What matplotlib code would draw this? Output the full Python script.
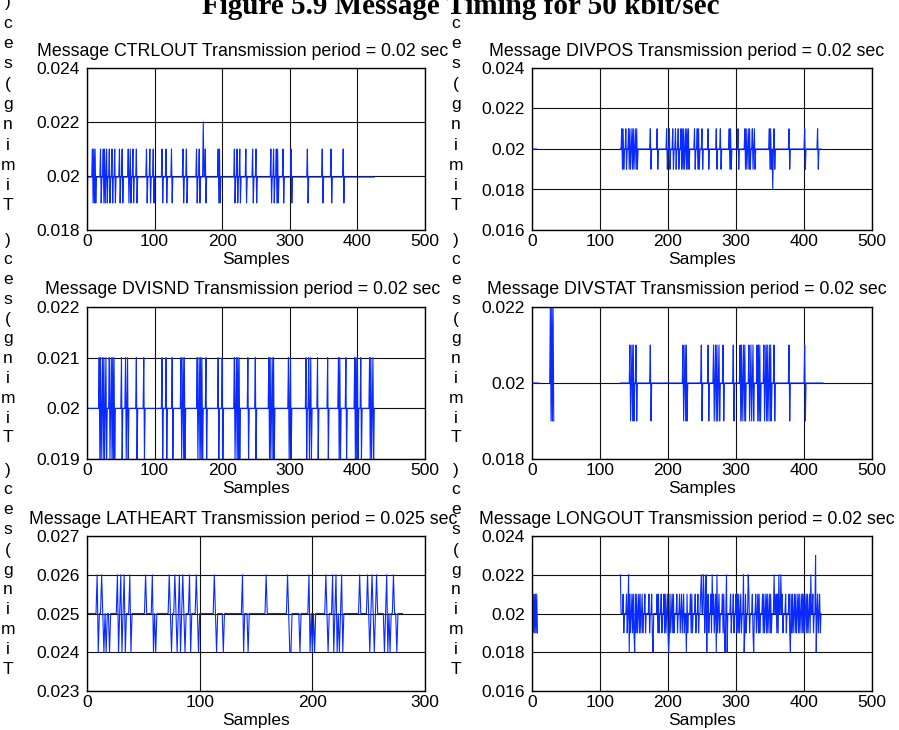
import numpy as np
import matplotlib
matplotlib.use('Agg')
import matplotlib.pyplot as plt

plt.rcParams['font.family'] = ['Liberation Sans', 'DejaVu Sans']

# Datos: cada serie es base + picos en muestras concretas
fig_title = 'Figure 5.9 Message Timing for 50 kbit/sec'
ylabel_txt = 'Timing(sec)'
xlabel_txt = 'Samples'

# CTRLOUT
ctrl_title = 'Message CTRLOUT Transmission period = 0.02 sec'
ctrl_n = 426
ctrl_base = 0.01996
ctrl_hi = [8, 10, 12, 20, 24, 26, 29, 33, 37, 41, 48, 52, 61, 64, 68, 73, 88, 93, 98, 111, 117, 125,
           142, 147, 162, 166, 175, 194, 196, 218, 222, 226, 235, 245, 250, 272, 276, 280, 282, 290,
           302, 326, 348, 361, 379]
ctrl_lo = [0, 9, 11, 13, 21, 25, 27, 30, 34, 38, 42, 49, 53, 62, 65, 69, 74, 89, 94, 99, 112, 118, 126,
           143, 148, 163, 167, 176, 195, 197, 219, 223, 227, 236, 246, 251, 273, 277, 281, 283, 291,
           303, 327, 349, 362, 380]
ctrl_peak = [172]
ctrl_yticks = [0.018, 0.02, 0.022, 0.024]

# DIVPOS
divpos_title = 'Message DIVPOS Transmission period = 0.02 sec'
divpos_n = 426
divpos_segments = [(0, 7), (130, 425)]
divpos_hi = [132, 134, 138, 142, 144, 147, 149, 152, 154, 174, 184, 198, 202, 207, 211, 215, 219, 221,
             223, 226, 228, 230, 239, 243, 245, 250, 259, 271, 277, 290, 292, 303, 313, 315, 318, 320,
             324, 327, 349, 351, 356, 378, 401, 420]
divpos_lo = [133, 135, 139, 143, 145, 148, 150, 153, 155, 175, 185, 199, 203, 208, 212, 216, 220, 222,
             224, 227, 229, 231, 240, 244, 246, 251, 260, 272, 278, 291, 293, 304, 314, 316, 319, 321,
             325, 328, 350, 352, 357, 379, 402, 421]
divpos_dip = [354]
divpos_yticks = [0.016, 0.018, 0.02, 0.022, 0.024]

# DVISND
dvisnd_title = 'Message DVISND Transmission period = 0.02 sec'
dvisnd_n = 426
dvisnd_hi = [18, 20, 23, 25, 28, 33, 36, 38, 40, 51, 57, 60, 73, 84, 111, 117, 126, 139, 142, 144, 163,
             166, 168, 170, 176, 194, 200, 218, 221, 223, 225, 238, 249, 269, 271, 274, 276, 298, 301,
             324, 328, 331, 341, 356, 372, 374, 383, 396, 398, 400, 405, 418, 420, 423]
dvisnd_lo = [19, 21, 24, 26, 29, 34, 37, 39, 41, 52, 58, 61, 74, 85, 112, 118, 127, 140, 143, 145, 164,
             167, 169, 171, 177, 195, 201, 219, 222, 224, 226, 239, 250, 270, 272, 275, 277, 299, 302,
             325, 329, 332, 342, 357, 373, 375, 384, 397, 399, 401, 406, 419, 421, 424]
dvisnd_yticks = [0.019, 0.02, 0.021, 0.022]

# DIVSTAT
divstat_title = 'Message DIVSTAT Transmission period = 0.02 sec'
divstat_n = 429
divstat_segments = [(0, 10), (26, 32), (130, 428)]
divstat_peak = [27, 29, 31]
divstat_hi = [144, 147, 149, 153, 174, 222, 225, 227, 249, 259, 267, 270, 272, 275, 281, 296, 306, 308,
              311, 313, 319, 322, 325, 331, 333, 335, 341, 344, 346, 349, 351, 356, 378, 401]
divstat_lo = [28, 30, 32, 145, 148, 150, 154, 175, 223, 226, 228, 250, 260, 268, 271, 273, 276, 282, 297,
              307, 309, 312, 314, 320, 323, 326, 332, 334, 336, 342, 345, 347, 350, 352, 357, 379, 402]
divstat_yticks = [0.018, 0.02, 0.022]

# LATHEART
lat_title = 'Message LATHEART Transmission period = 0.025 sec'
lat_n = 281
lat_hi = [9, 13, 27, 30, 33, 38, 52, 58, 73, 78, 82, 85, 91, 97, 113, 138, 159, 178, 197, 212, 218, 221,
          226, 242, 249, 253, 257, 266, 272]
lat_lo = [10, 15, 17, 20, 28, 31, 34, 39, 59, 61, 75, 80, 83, 87, 92, 99, 115, 121, 139, 143, 180, 181,
          189, 198, 200, 202, 214, 219, 222, 224, 227, 251, 255, 264, 267, 269, 275]
lat_yticks = [0.023, 0.024, 0.025, 0.026, 0.027]

# LONGOUT
long_title = 'Message LONGOUT Transmission period = 0.02 sec'
long_n = 426
long_segments = [(0, 8), (130, 425)]
long_hi = [1, 3, 5, 7, 134, 139, 144, 147, 149, 152, 154, 157, 159, 162, 166, 172, 176, 184, 186, 190,
           194, 196, 199, 201, 203, 206, 208, 213, 217, 220, 223, 228, 233, 235, 240, 244, 248, 253, 259,
           263, 267, 270, 272, 275, 280, 282, 292, 296, 300, 302, 304, 307, 312, 314, 319, 324, 329, 332,
           334, 339, 341, 344, 346, 349, 351, 359, 361, 368, 373, 378, 381, 383, 386, 388, 391, 393, 396,
           398, 400, 403, 405, 408, 413, 420, 423]
long_lo = [2, 4, 6, 8, 135, 140, 145, 148, 150, 153, 155, 158, 160, 163, 167, 173, 177, 185, 187, 191,
           195, 197, 200, 202, 204, 207, 209, 214, 218, 221, 224, 229, 234, 236, 241, 245, 249, 254, 260,
           264, 268, 271, 273, 276, 281, 283, 293, 297, 301, 303, 305, 308, 313, 315, 320, 325, 330, 333,
           335, 340, 342, 345, 347, 350, 352, 360, 362, 369, 374, 379, 382, 384, 387, 389, 392, 394, 397,
           399, 401, 404, 406, 409, 414, 421, 424]
long_peak = [130, 142, 249, 252, 256, 265, 272, 286, 311, 318, 356, 363, 366, 410]
long_top = [417]
long_dip = [143, 151, 178, 201, 227, 257, 271, 284, 287, 312, 326, 380, 418]
long_yticks = [0.016, 0.018, 0.02, 0.022, 0.024]


def serie(n, base, marcas, segmentos=None):
    y = np.full(n, base)
    for valor, idx in marcas:
        y[idx] = valor
    if segmentos is not None:
        mask = np.zeros(n, dtype=bool)
        for a, b in segmentos:
            mask[a:b + 1] = True
        y[~mask] = np.nan
    return y


paneles = [
    (ctrl_title, serie(ctrl_n, ctrl_base, [(0.021, ctrl_hi), (0.019, ctrl_lo), (0.022, ctrl_peak)]),
     ctrl_yticks, 500),
    (divpos_title, serie(divpos_n, 0.02, [(0.021, divpos_hi), (0.019, divpos_lo), (0.018, divpos_dip)],
                         divpos_segments), divpos_yticks, 500),
    (dvisnd_title, serie(dvisnd_n, 0.02, [(0.021, dvisnd_hi), (0.019, dvisnd_lo)]), dvisnd_yticks, 500),
    (divstat_title, serie(divstat_n, 0.02, [(0.021, divstat_hi), (0.019, divstat_lo), (0.022, divstat_peak)],
                          divstat_segments), divstat_yticks, 500),
    (lat_title, serie(lat_n, 0.025, [(0.026, lat_hi), (0.024, lat_lo)]), lat_yticks, 300),
    (long_title, serie(long_n, 0.02, [(0.021, long_hi), (0.019, long_lo), (0.022, long_peak),
                                      (0.023, long_top), (0.018, long_dip)], long_segments),
     long_yticks, 500),
]

W, H = 899, 730
fig = plt.figure(figsize=(W / 100, H / 100), dpi=100)

# posiciones de los ejes en pixeles (izq, der, arriba, abajo)
cajas = [(87, 425, 68, 230), (532, 872, 68, 230),
         (87, 425, 307, 459), (532, 872, 307, 459),
         (87, 425, 536, 691), (532, 872, 536, 691)]
centros_titulo = [243, 687]

for k, (titulo, y, yt, xmax) in enumerate(paneles):
    l, r, t, b = cajas[k]
    ax = fig.add_axes([l / W, 1 - b / H, (r - l) / W, (b - t) / H])
    ax.plot(np.arange(len(y)), y, color='#0a2bff', lw=0.8)
    ax.set_xlim(0, xmax)
    ax.set_xticks(np.arange(0, xmax + 1, 100))
    ax.set_ylim(yt[0], yt[-1])
    ax.set_yticks(yt)
    ax.set_yticklabels([f'{v:g}' for v in yt])
    ax.grid(True, color='#111111', lw=0.8)
    ax.tick_params(length=0, labelsize=12.5)
    ax.tick_params(axis='y', pad=5)
    ax.tick_params(axis='x', pad=3)
    for s in ax.spines.values():
        s.set_linewidth(1.0)
    xc = (centros_titulo[k % 2] - l) / (r - l)
    ax.set_title(titulo, fontsize=12.8, x=xc, pad=9)
    ax.set_xlabel(xlabel_txt, fontsize=12.5, labelpad=2)

# etiquetas verticales apiladas letra por letra
letras = list(reversed(ylabel_txt))
for x0 in [8, 456]:
    for y0, paso in [(3, 20.3), (240, 19.8), (470, 20.0)]:
        for j, ch in enumerate(letras):
            fig.text(x0 / W, 1 - (y0 + j * paso) / H, ch, ha='center', va='center', fontsize=12.5)

fig.text(461 / W, 1 - 14 / H, fig_title, ha='center', va='baseline', fontsize=21,
         fontweight='bold', family='Liberation Serif')

fig.savefig('out.png', dpi=100)
